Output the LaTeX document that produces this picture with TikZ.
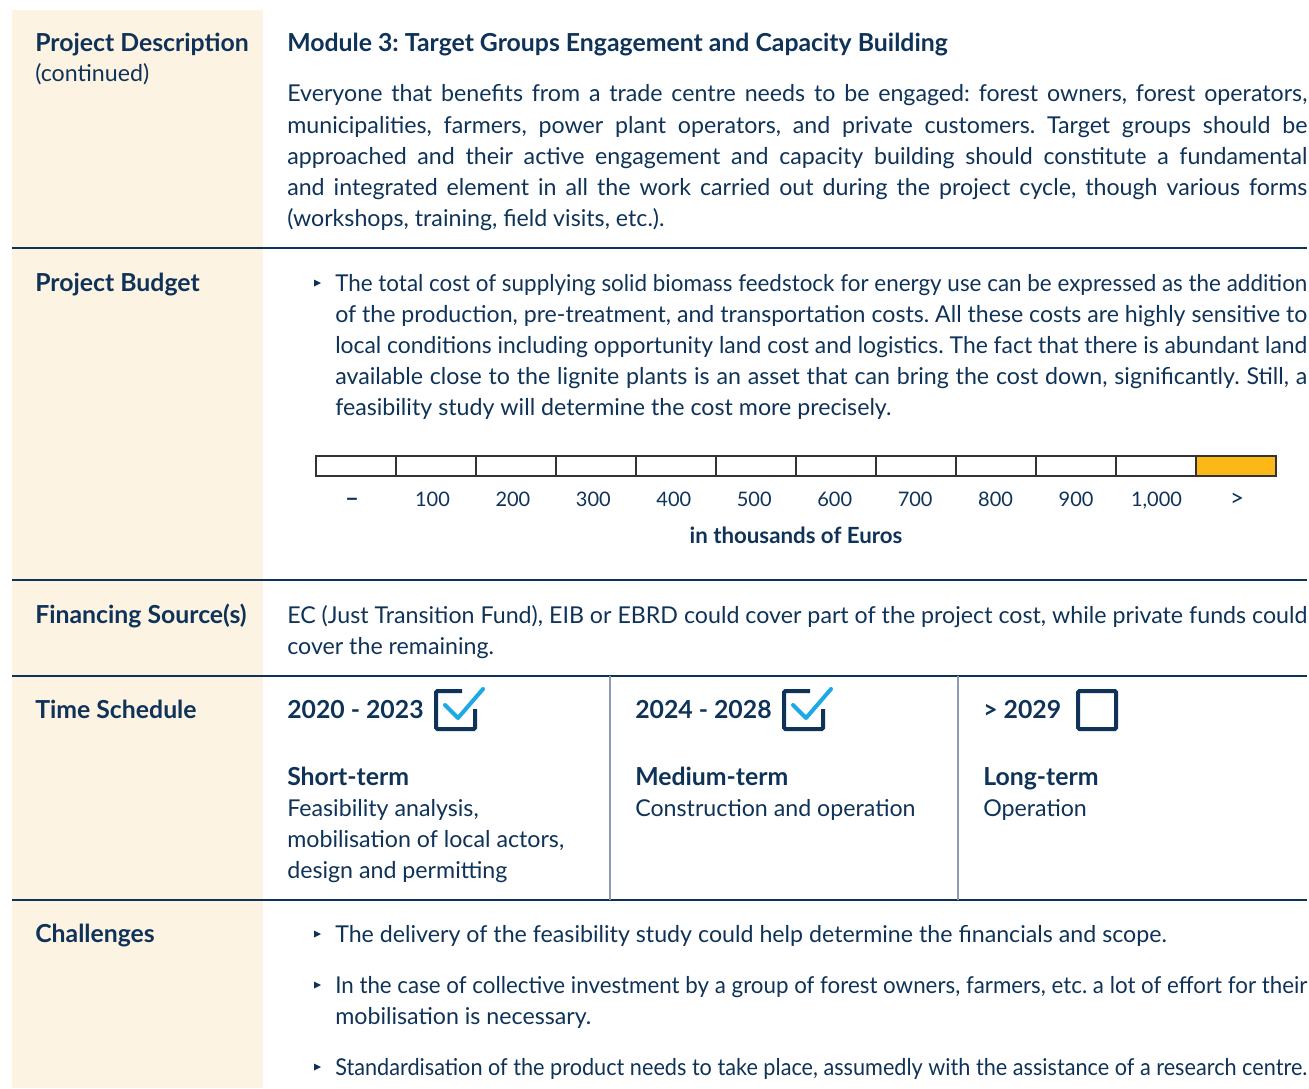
\documentclass[tikz,border=0pt]{standalone}
\usepackage{graphicx}
\usepackage{fontspec}
\setmainfont{Lato}
\definecolor{navy}{HTML}{0F3358}
\definecolor{beige}{HTML}{FDF3E3}
\definecolor{sky}{HTML}{1CA9E6}
\definecolor{gold}{HTML}{FBB817}
\definecolor{vline}{HTML}{8C9BAE}
\newsavebox\linebx
\newcommand\fitl[2]{\sbox\linebx{#2}\ifdim\wd\linebx>#1\relax\hbox{\resizebox{#1}{\height}{\usebox\linebx}}\else\hbox to #1{#2}\fi}
\newcommand\jl[1]{\fitl{765pt}{#1}}
\newcommand\bl[1]{\fitl{729pt}{#1}}
\newcommand\para[1]{\vtop{\baselineskip=23.4pt\lineskiplimit=-20pt #1}}
\newcommand\bigsym{\fontsize{18}{20}\selectfont}
\tikzset{
  txt/.style={text=navy, font=\fontsize{17.4}{21}\selectfont\frenchspacing, inner sep=0pt, anchor=base west},
  lbl/.style={txt, font=\fontsize{18.6}{22}\selectfont\bfseries\frenchspacing},
  num/.style={text=navy, font=\fontsize{15}{18}\selectfont, inner sep=0pt, anchor=base},
  rule/.style={draw=navy, line width=1pt},
  col/.style={draw=vline, line width=1.1pt},
  bul/.style={fill=navy},
  cbox/.style={draw=navy, line width=3pt, rounded corners=1pt},
  tick/.style={draw=sky, line width=3pt, line cap=round, line join=round},
  cell/.style={draw=black!80, line width=0.8pt}
}
\begin{document}
\begin{tikzpicture}[x=0.75pt,y=-0.75pt]
\useasboundingbox (0,0) rectangle (1309,1088);
\fill[white] (0,0) rectangle (1309,1088);
\fill[beige] (12,10) rectangle (263,1088);
% rules
\foreach \yy in {248,580,676,900} \draw[rule] (12,\yy) -- (1307,\yy);
\draw[col] (610,676) -- (610,900);
\draw[col] (958,676) -- (958,900);
% left labels
\node[lbl] (pd) at (35,52) {Project Description};
\node[txt] (pdc) at (35,82) {(continued)};
\node[lbl] (pb) at (35,291) {Project Budget};
\node[lbl] (fs) at (35,623) {Financing Source(s)};
\node[lbl] (ts) at (35,718) {Time Schedule};
\node[lbl] (ch) at (35,942) {Challenges};
% module 3
\node[lbl] (m3) at (287,52) {Module 3: Target Groups Engagement and Capacity Building};
\node[txt] (m3t) at (287,102) {\para{%
\jl{Everyone that benefits from a trade centre needs to be engaged: forest owners, forest operators,}
\jl{municipalities, farmers, power plant operators, and private customers. Target groups should be}
\jl{approached and their active engagement and capacity building should constitute a fundamental}
\jl{and integrated element in all the work carried out during the project cycle, though various forms}
\hbox{(workshops, training, field visits, etc.).}}};
% budget
\fill[bul] (314,279.5) -- (321,283) -- (314,286.5) -- cycle;
\node[txt] (pbt) at (335,291) {\para{%
\bl{The total cost of supplying solid biomass feedstock for energy use can be expressed as the addition}
\bl{of the production, pre-treatment, and transportation costs. All these costs are highly sensitive to}
\bl{local conditions including opportunity land cost and logistics. The fact that there is abundant land}
\bl{available close to the lignite plants is an asset that can bring the cost down, significantly. Still, a}
\hbox{feasibility study will determine the cost more precisely.}}};
% scale
\foreach \i in {0,...,10} \draw[cell] (316+80*\i,456) rectangle (396+80*\i,476);
\filldraw[fill=gold, draw=black!80, line width=0.8pt] (1196,456) rectangle (1276,476);
\foreach \t [count=\k from 0] in {{\bigsym\bfseries –},100,200,300,400,500,600,700,800,900,{1,000},{\bigsym >}}
  \node[num] (s\k) at (352+80.45*\k,506) {\t};
\node[num, font=\fontsize{16.7}{20}\selectfont\bfseries] (eur) at (796,543) {in thousands of Euros};
% financing
\node[txt] (fst) at (287,623) {\para{%
\jl{EC (Just Transition Fund), EIB or EBRD could cover part of the project cost, while private funds could}
\hbox{cover the remaining.}}};
% time schedule
\node[lbl] (y1) at (287,718) {2020 - 2023};
\node[lbl] (y2) at (635,718) {2024 - 2028};
\node[lbl] (y3) at (983,718) {> 2029};
\foreach \dx in {0,348} {
  \draw[cbox] (462+\dx,691) -- (436+\dx,691) -- (436+\dx,729) -- (475+\dx,729) -- (475+\dx,709);
  \draw[tick] (445+\dx,705) -- (458+\dx,718) -- (483+\dx,689);
}
\draw[cbox] (1078,691) rectangle (1116,729);
\node[lbl] (st) at (287,785) {Short-term};
\node[txt] (stt) at (287,816) {\para{\hbox{Feasibility analysis,}\hbox{mobilisation of local actors,}\hbox{design and permitting}}};
\node[lbl] (mt) at (635,785) {Medium-term};
\node[txt] (mtt) at (635,816) {Construction and operation};
\node[lbl] (lt) at (983,785) {Long-term};
\node[txt] (ltt) at (983,816) {Operation};
% challenges
\foreach \yy in {934,985,1067} \fill[bul] (314,\yy-3.5) -- (321,\yy) -- (314,\yy+3.5) -- cycle;
\node[txt] (c1) at (335,942) {The delivery of the feasibility study could help determine the financials and scope.};
\node[txt] (c2) at (335,993) {\para{%
\bl{In the case of collective investment by a group of forest owners, farmers, etc. a lot of effort for their}
\hbox{mobilisation is necessary.}}};
\node[txt] (c3) at (335,1075) {\bl{Standardisation of the product needs to take place, assumedly with the assistance of a research centre.}};
\end{tikzpicture}
\end{document}
